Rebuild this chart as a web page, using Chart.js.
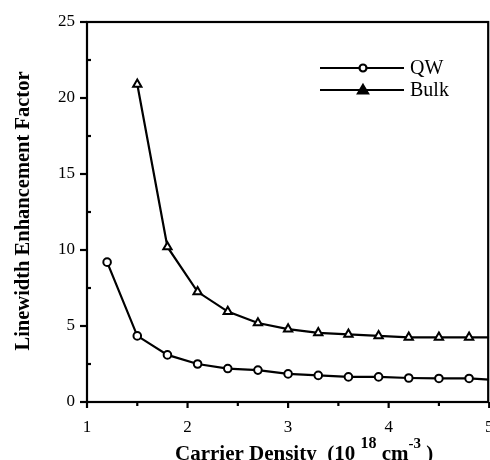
<!DOCTYPE html>
<html lang="en">
<head>
<meta charset="UTF-8">
<title>Linewidth Enhancement Factor</title>
<script src="https://cdn.jsdelivr.net/npm/chart.js"></script>
<style>
  html, body { margin: 0; padding: 0; background: #fff; overflow: hidden; }
</style>
</head>
<body>
<!-- a few px wider than the window so the frame lands on the right edge -->
<canvas id="lef" width="496" height="460"></canvas>
<script>
// values
const xQW = [1.2, 1.5, 1.8, 2.1, 2.4, 2.7, 3.0, 3.3, 3.6, 3.9, 4.2, 4.5, 4.8, 5.0];
const qwValues = [9.2, 4.35, 3.1, 2.5, 2.2, 2.1, 1.85, 1.75, 1.65, 1.65, 1.58, 1.55, 1.55, 1.47];
const xBulk = [1.5, 1.8, 2.1, 2.4, 2.7, 3.0, 3.3, 3.6, 3.9, 4.2, 4.5, 4.8, 5.0];
const bulkValues = [20.9, 10.2, 7.25, 5.95, 5.2, 4.8, 4.55, 4.45, 4.35, 4.25, 4.25, 4.25, 4.25];
const seriesNames = ['QW', 'Bulk'];
const xTicks = [1, 2, 3, 4, 5];
const yTicks = [0, 5, 10, 15, 20, 25];

const serif = '"Liberation Serif", "DejaVu Serif", serif';

function toPoints(xs, ys) {
  return xs.map((x, i) => ({ x: x, y: ys[i] }));
}
// the last point sits on the frame edge without a marker
function radii(n, r) {
  return Array.from({ length: n }, (_, i) => (i === n - 1 ? 0 : r));
}

// frame, ticks, legend and axis titles
const decor = {
  id: 'decor',
  afterDraw(chart) {
    const ctx = chart.ctx;
    const a = chart.chartArea;
    const xs = chart.scales.x, ys = chart.scales.y;
    ctx.save();
    ctx.strokeStyle = '#000';
    ctx.lineWidth = 2.2;
    ctx.strokeRect(a.left, a.top, a.right - a.left - 1, a.bottom - a.top);

    // y ticks: major outward, minor inward
    for (let v = 0; v <= 25; v += 2.5) {
      const py = ys.getPixelForValue(v);
      ctx.beginPath();
      if (v % 5 === 0) { ctx.moveTo(a.left - 7, py); ctx.lineTo(a.left, py); }
      else { ctx.moveTo(a.left, py); ctx.lineTo(a.left + 4, py); }
      ctx.stroke();
    }
    // x ticks
    for (let v = 1; v <= 5; v += 0.5) {
      const px = xs.getPixelForValue(v);
      ctx.beginPath();
      ctx.moveTo(px, a.bottom);
      ctx.lineTo(px, a.bottom + (v % 1 === 0 ? 6 : 4));
      ctx.stroke();
    }

    // legend
    const legendRows = [68, 90];
    chart.data.datasets.forEach((ds, i) => {
      const y = legendRows[i];
      ctx.lineWidth = 2.2;
      ctx.beginPath();
      ctx.moveTo(320, y);
      ctx.lineTo(404, y);
      ctx.stroke();
      ctx.fillStyle = i === 0 ? '#fff' : '#000';
      ctx.beginPath();
      if (ds.pointStyle === 'circle') {
        ctx.arc(363, y, 3.5, 0, Math.PI * 2);
      } else {
        ctx.moveTo(363, y - 5);
        ctx.lineTo(368, y + 3.5);
        ctx.lineTo(358, y + 3.5);
        ctx.closePath();
      }
      ctx.fill();
      ctx.stroke();
      ctx.fillStyle = '#000';
      ctx.font = '20px ' + serif;
      ctx.textAlign = 'left';
      ctx.textBaseline = 'middle';
      ctx.fillText(ds.label, 410, y + 1);
    });

    // y title
    ctx.save();
    ctx.translate(24, 211);
    ctx.rotate(-Math.PI / 2);
    ctx.font = 'bold 20.5px ' + serif;
    ctx.textAlign = 'center';
    ctx.textBaseline = 'middle';
    ctx.fillText('Linewidth Enhancement Factor', 0, 0);
    ctx.restore();

    // x title with superscripts
    const parts = [
      ['Carrier Density  (10 ', 21, 0],
      ['18', 16, -12],
      [' cm', 21, 0],
      ['-3', 15, -12],
      [' )', 21, 0]
    ];
    let x = 175;
    ctx.textAlign = 'left';
    ctx.textBaseline = 'alphabetic';
    parts.forEach(([t, size, dy]) => {
      ctx.font = 'bold ' + size + 'px ' + serif;
      ctx.fillText(t, x, 460 + dy);
      x += ctx.measureText(t).width;
    });
    ctx.restore();
  }
};

new Chart(document.getElementById('lef'), {
  type: 'line',
  data: {
    datasets: [
      {
        label: seriesNames[0],
        data: toPoints(xQW, qwValues),
        borderColor: '#000',
        borderWidth: 2.2,
        pointStyle: 'circle',
        pointRadius: radii(xQW.length, 3.8),
        pointBackgroundColor: '#fff',
        pointBorderColor: '#000',
        pointBorderWidth: 2,
        tension: 0
      },
      {
        label: seriesNames[1],
        data: toPoints(xBulk, bulkValues),
        borderColor: '#000',
        borderWidth: 2.2,
        pointStyle: 'triangle',
        pointRadius: radii(xBulk.length, 4.8),
        pointBackgroundColor: '#fff',
        pointBorderColor: '#000',
        pointBorderWidth: 2,
        tension: 0
      }
    ]
  },
  options: {
    responsive: false,
    animation: false,
    events: [],
    layout: { padding: { top: 22, right: 0, left: 0, bottom: 0 } },
    plugins: { legend: { display: false }, tooltip: { enabled: false } },
    scales: {
      x: {
        type: 'linear',
        min: 1,
        max: 5,
        grid: { display: false, drawTicks: false },
        border: { display: false },
        afterBuildTicks: s => { s.ticks = xTicks.map(v => ({ value: v })); },
        ticks: {
          color: '#000',
          padding: 15,
          maxRotation: 0,
          font: { family: serif, size: 17 }
        },
        afterFit: s => { s.height = 58; s.paddingLeft = 0; s.paddingRight = 0; }
      },
      y: {
        type: 'linear',
        min: 0,
        max: 25,
        grid: { display: false, drawTicks: false },
        border: { display: false },
        afterBuildTicks: s => { s.ticks = yTicks.map(v => ({ value: v })); },
        ticks: {
          color: '#000',
          padding: 12,
          font: { family: serif, size: 17 }
        },
        afterFit: s => { s.width = 87; s.paddingTop = 0; s.paddingBottom = 0; }
      }
    }
  },
  plugins: [decor]
});
</script>
</body>
</html>
